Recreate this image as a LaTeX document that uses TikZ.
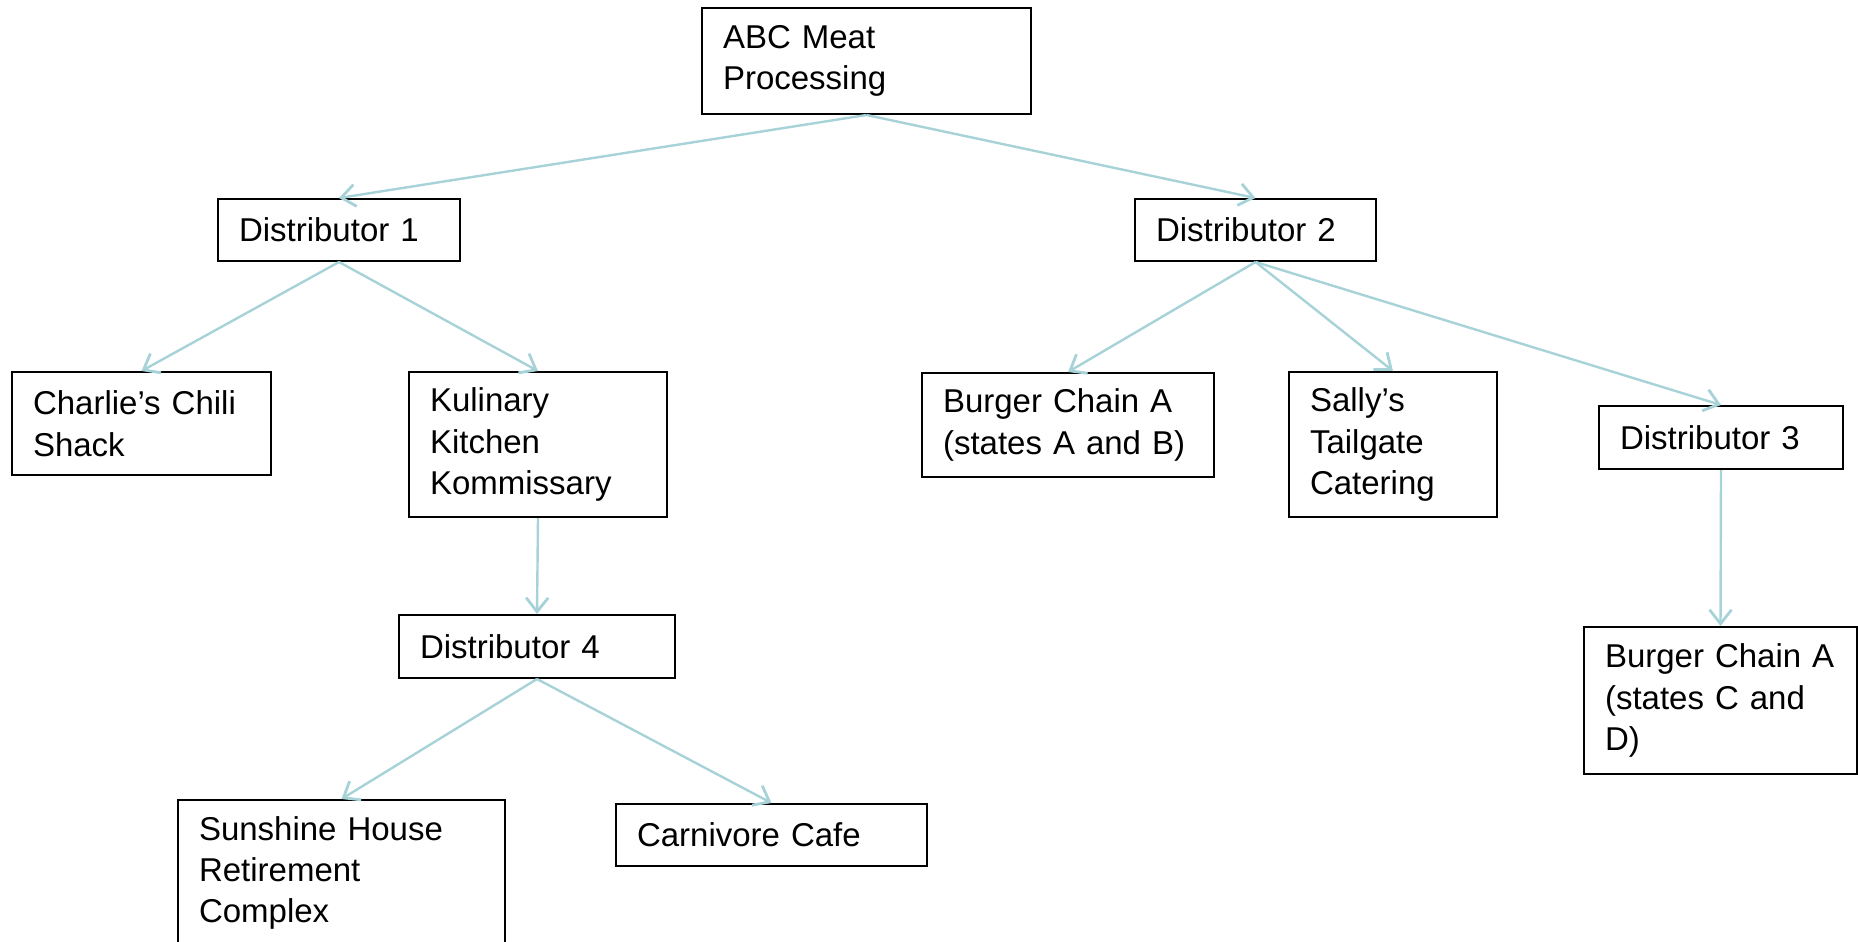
\documentclass[tikz,border=0pt]{standalone}
\usepackage{fontspec}
\setmainfont{Liberation Sans}
\usetikzlibrary{arrows.meta}
\definecolor{arrowcol}{HTML}{A6D2D8}
\begin{document}
\begin{tikzpicture}[x=0.5pt,y=-0.5pt,
  box/.style={draw=black,line width=1pt,rectangle,anchor=north west,
    inner xsep=10.5pt,inner ysep=0pt,align=left,
    font=\fontsize{16.5}{20.7}\selectfont},
  conn/.style={draw=arrowcol,line width=1.2pt,-{Straight Barb[length=7pt,width=11pt,line width=1.4pt]}}]
\useasboundingbox (0,0) rectangle (1858,942);
\node[box,minimum width=164.5pt,minimum height=53pt,text width=143.5pt] (abc) at (701,7) {ABC Meat\\Processing};
\node[box,minimum width=121pt,minimum height=31pt,text width=100pt] (d1) at (217,198) {Distributor 1};
\node[box,minimum width=120.5pt,minimum height=31pt,text width=99.5pt] (d2) at (1134,198) {Distributor 2};
\node[box,minimum width=129.5pt,minimum height=51.5pt,text width=108.5pt] (ch) at (11,371) {Charlie’s Chili\\Shack};
\node[box,minimum width=129pt,minimum height=72.5pt,text width=108pt] (kk) at (408,371) {Kulinary\\Kitchen\\Kommissary};
\node[box,minimum width=146pt,minimum height=52pt,text width=125pt] (ba) at (921,372) {Burger Chain A\\(states A and B)};
\node[box,minimum width=104pt,minimum height=72.5pt,text width=83pt] (sa) at (1288,371) {Sally’s\\Tailgate\\Catering};
\node[box,minimum width=122pt,minimum height=31.5pt,text width=101pt] (d3) at (1598,405) {Distributor 3};
\node[box,minimum width=136.5pt,minimum height=73.5pt,text width=115.5pt] (bc) at (1583,626) {Burger Chain A\\(states C and\\D)};
\node[box,minimum width=138pt,minimum height=31.5pt,text width=117pt] (d4) at (398,614) {Distributor 4};
\node[box,minimum width=163.5pt,minimum height=73pt,text width=142.5pt] (su) at (177,799) {Sunshine House\\Retirement\\Complex};
\node[box,minimum width=155.5pt,minimum height=31pt,text width=134.5pt] (cc) at (615,803) {Carnivore Cafe};
\draw[conn] (abc.south) -- (d1.north);
\draw[conn] (abc.south) -- (d2.north);
\draw[conn] (d1.south) -- (ch.north);
\draw[conn] (d1.south) -- (kk.north);
\draw[conn] (kk.south) -- (d4.north);
\draw[conn] (d4.south) -- (su.north);
\draw[conn] (d4.south) -- (cc.north);
\draw[conn] (d2.south) -- (ba.north);
\draw[conn] (d2.south) -- (sa.north);
\draw[conn] (d2.south) -- (d3.north);
\draw[conn] (d3.south) -- (bc.north);
\end{tikzpicture}
\end{document}
